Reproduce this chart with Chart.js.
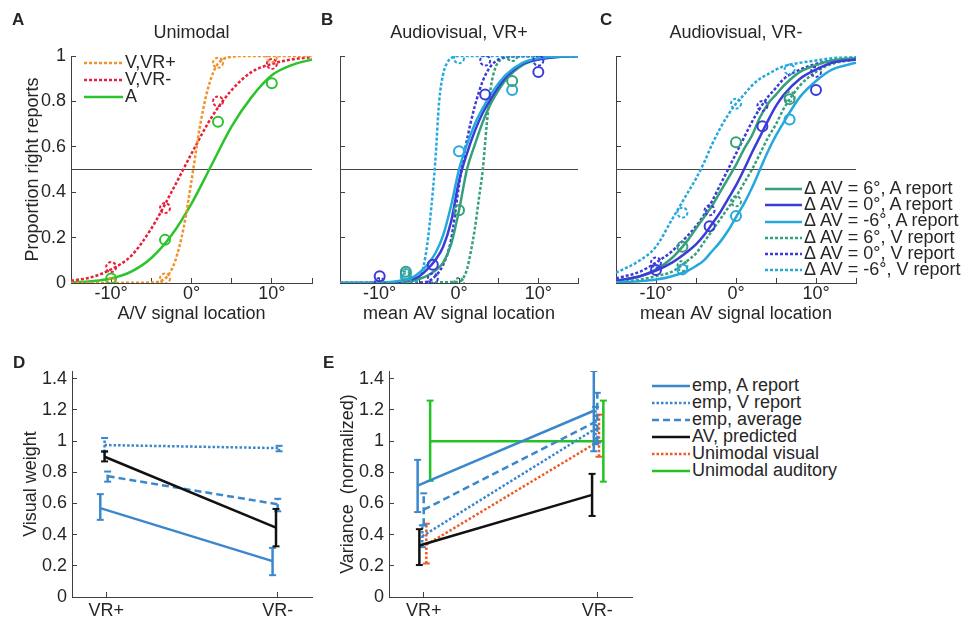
<!DOCTYPE html>
<html>
<head>
<meta charset="utf-8">
<script src="https://cdn.jsdelivr.net/npm/chart.js@4.4.0/dist/chart.umd.min.js"></script>
<style>
body { margin: 0; background: #fff; }
#fig { position: relative; width: 969px; height: 619px; overflow: hidden;
       font-family: 'Liberation Sans', Arial, sans-serif; color: #262626; }
#fig canvas { position: absolute; }
.letter { position: absolute; font-weight: bold; font-size: 17px; line-height: 17px; }
.leg { position: absolute; font-size: 18px; white-space: nowrap; }
.leg div { height: 17px; line-height: 17px; }
#legC div { height: 16.2px; line-height: 16.2px; }
.leg svg { vertical-align: middle; margin-right: 2px; }
</style>
</head>
<body>
<div id="fig">
  <canvas id="panelA" width="320" height="335" style="left:0;top:0"></canvas>
  <canvas id="panelB" width="280" height="335" style="left:320px;top:0"></canvas>
  <canvas id="panelC" width="270" height="335" style="left:600px;top:0"></canvas>
  <canvas id="panelD" width="320" height="284" style="left:0;top:335px"></canvas>
  <canvas id="panelE" width="320" height="284" style="left:320px;top:335px"></canvas>

  <div class="letter" style="left:12px;top:11px">A</div>
  <div class="letter" style="left:321px;top:11px">B</div>
  <div class="letter" style="left:600px;top:11px">C</div>
  <div class="letter" style="left:13px;top:354px">D</div>
  <div class="letter" style="left:323px;top:354px">E</div>

  <div class="leg" id="legA" style="left:84px;top:54px"></div>
  <div class="leg" id="legC" style="left:765px;top:180px"></div>
  <div class="leg" id="legE" style="left:652px;top:377px"></div>
</div>

<script>
// ---- data ----

// A : unimodal
const locA = [-10, -3.3, 3.3, 10];
const vPlusPts = [0.0, 0.02, 0.97, 0.995];
const vMinusPts = [0.07, 0.33, 0.80, 0.965];
const audPts = [0.02, 0.19, 0.71, 0.88];

const curveXA = [-15, -12.5, -10, -7.5, -5, -2.5, 0, 2.5, 5, 7.5, 10, 12.5, 15];
const audCurve = [0.003, 0.008, 0.02, 0.05, 0.11, 0.21, 0.35, 0.52, 0.69, 0.82, 0.915, 0.96, 0.985];
const vMinusCurve = [0.01, 0.025, 0.06, 0.12, 0.24, 0.40, 0.57, 0.73, 0.85, 0.93, 0.965, 0.985, 0.995];
const vPlusCurveX = [-15, -5, -4, -3, -2, -1, 0, 1, 2, 3, 4, 5, 6, 15];
const vPlusCurve = [0, 0.002, 0.007, 0.03, 0.10, 0.24, 0.45, 0.68, 0.85, 0.95, 0.987, 0.997, 1, 1];

// B and C : audiovisual (x = mean AV location)
const locAV0 = [-10, -3.3, 3.3, 10];     // delta AV = 0
const locAV6 = [-6.7, 0, 6.7];           // delta AV = +-6
const gridX = [-15, -12, -10, -8, -6, -5, -4, -3, -2, -1, 0, 1, 2, 3, 4, 5, 6, 8, 10, 12, 15];

// B : VR+
const bPts6A = [0.05, 0.32, 0.89];
const bPts0A = [0.03, 0.08, 0.83, 0.93];
const bPtsM6A = [0.04, 0.58, 0.85];
const bPts6V = [0.03, 0.0, 1.0];
const bPts0V = [0.0, 0.02, 0.98, 0.98];
const bPtsM6V = [0.02, 0.99, 1.0];

const bCurve6A = [0, 0, 0, 0.002, 0.008, 0.018, 0.032, 0.055, 0.09, 0.17, 0.32, 0.50, 0.61, 0.71, 0.79, 0.85, 0.90, 0.96, 0.985, 0.995, 1];
const bCurve0A = [0, 0, 0.001, 0.004, 0.015, 0.03, 0.06, 0.10, 0.16, 0.27, 0.45, 0.57, 0.67, 0.75, 0.81, 0.865, 0.91, 0.965, 0.985, 0.995, 1];
const bCurveM6A = [0, 0, 0.002, 0.007, 0.022, 0.045, 0.08, 0.13, 0.21, 0.34, 0.50, 0.61, 0.70, 0.77, 0.83, 0.88, 0.92, 0.97, 0.99, 0.997, 1];
const bCurve6VX = [-15, 0, 0.5, 1, 1.5, 2, 2.5, 3, 3.5, 4, 4.5, 5, 6, 7, 15];
const bCurve6V = [0, 0.005, 0.02, 0.06, 0.14, 0.24, 0.37, 0.50, 0.70, 0.86, 0.94, 0.975, 0.995, 1, 1];
const bCurve0VX = [-15, -5, -4, -3, -2, -1, 0, 1, 2, 3, 4, 5, 6, 15];
const bCurve0V = [0, 0.002, 0.006, 0.03, 0.08, 0.19, 0.43, 0.63, 0.78, 0.89, 0.955, 0.985, 0.997, 1];
const bCurveM6VX = [-15, -7, -6, -5, -4.5, -4, -3.5, -3, -2.5, -2, -1.5, -1, 0, 15];
const bCurveM6V = [0, 0, 0.003, 0.02, 0.07, 0.17, 0.33, 0.53, 0.80, 0.92, 0.97, 0.99, 1, 1];

// C : VR-
const cPts6A = [0.16, 0.62, 0.81];
const cPts0A = [0.057, 0.25, 0.69, 0.85];
const cPtsM6A = [0.06, 0.295, 0.72];
const cPts6V = [0.075, 0.36, 0.82];
const cPts0V = [0.09, 0.32, 0.78, 0.93];
const cPtsM6V = [0.31, 0.79, 0.94];

const cCurve6A = [0.01, 0.03, 0.06, 0.11, 0.19, 0.24, 0.29, 0.34, 0.40, 0.46, 0.52, 0.59, 0.65, 0.73, 0.79, 0.83, 0.87, 0.93, 0.96, 0.98, 0.99];
const cCurve0A = [0.01, 0.03, 0.055, 0.09, 0.14, 0.17, 0.21, 0.26, 0.31, 0.37, 0.43, 0.50, 0.575, 0.645, 0.715, 0.78, 0.83, 0.90, 0.94, 0.97, 0.985];
const cCurveM6A = [0.003, 0.008, 0.015, 0.03, 0.055, 0.075, 0.10, 0.14, 0.18, 0.23, 0.29, 0.35, 0.42, 0.50, 0.58, 0.65, 0.71, 0.82, 0.89, 0.94, 0.97];
const cCurve6V = [0.005, 0.015, 0.03, 0.05, 0.10, 0.13, 0.18, 0.23, 0.28, 0.33, 0.38, 0.44, 0.50, 0.57, 0.64, 0.70, 0.77, 0.87, 0.93, 0.965, 0.985];
const cCurve0V = [0.02, 0.05, 0.09, 0.14, 0.21, 0.25, 0.30, 0.36, 0.43, 0.50, 0.57, 0.64, 0.71, 0.77, 0.82, 0.86, 0.90, 0.94, 0.965, 0.98, 0.99];
const cCurveM6V = [0.045, 0.10, 0.16, 0.28, 0.40, 0.46, 0.53, 0.61, 0.68, 0.74, 0.79, 0.83, 0.87, 0.90, 0.92, 0.94, 0.955, 0.97, 0.98, 0.99, 0.995];

const psyXTicks = [-15, -10, -5, 0, 5, 10, 15];
const psyYTicks = [0, 0.2, 0.4, 0.6, 0.8, 1];

// D : visual weight   (values, lower and upper error)
const conds = ['VR+', 'VR-'];
const wArep = [0.57, 0.23],  wArepLo = [0.495, 0.14],  wArepHi = [0.66, 0.315];
const wVrep = [0.975, 0.955], wVrepLo = [0.93, 0.935], wVrepHi = [1.02, 0.97];
const wAvg = [0.775, 0.595],  wAvgLo = [0.74, 0.55],   wAvgHi = [0.805, 0.63];
const wPred = [0.90, 0.445],  wPredLo = [0.87, 0.325], wPredHi = [0.935, 0.565];

// E : variance (normalized)
const vArep = [0.715, 1.195], vArepLo = [0.545, 0.935], vArepHi = [0.88, 1.45];
const vVrep = [0.39, 1.08],   vVrepLo = [0.32, 0.98],   vVrepHi = [0.46, 1.22];
const vAvg = [0.56, 1.13],    vAvgLo = [0.46, 0.99],    vAvgHi = [0.665, 1.31];
const vPred = [0.33, 0.655],  vPredLo = [0.205, 0.52],  vPredHi = [0.435, 0.79];
const vUniV = [0.335, 1.0],   vUniVLo = [0.215, 0.90],  vUniVHi = [0.47, 1.17];
const vUniA = [1.0, 1.0],     vUniALo = [0.745, 0.74],  vUniAHi = [1.26, 1.26];

const barYTicks = [0, 0.2, 0.4, 0.6, 0.8, 1, 1.2, 1.4];

// ---- styles ----
const txtClr = '#262626';
const axisClr = '#404040';
const orange = '#f0922b', red = '#e8203c', green = '#2cc42c';
const teal = '#36a07a', blue = '#3b3bd9', cyan = '#25a9dd';
const steel = '#3b87cc', redOr = '#f05a28', uniGreen = '#22c322', black = '#111111';
const dotted = [3, 2], dashed = [7, 4];

Chart.defaults.font.family = "'Liberation Sans', Arial, sans-serif";
Chart.defaults.font.size = 18;
Chart.defaults.color = txtClr;

// points of "V report" data are drawn as dotted circles
Chart.register({
    id: 'pointDash',
    beforeDatasetDraw(chart, args) {
        chart.ctx.save();
        const ds = chart.data.datasets[args.index];
        if (ds.pointDash) chart.ctx.setLineDash(ds.pointDash);
    },
    afterDatasetDraw(chart) {
        chart.ctx.restore();
    }
});

function pairs(xs, ys) {
    return xs.map((x, i) => ({x: x, y: ys[i]}));
}

function curve(xs, ys, color, dash) {
    return {data: pairs(xs, ys), borderColor: color, borderWidth: 2.5, borderDash: dash || [],
            pointRadius: 0, cubicInterpolationMode: 'monotone', fill: false};
}

function circles(xs, ys, color, dash) {
    return {data: pairs(xs, ys), showLine: false, borderColor: color, pointRadius: 5,
            pointBorderWidth: 2, pointBorderColor: color, pointBackgroundColor: 'rgba(0,0,0,0)',
            pointDash: dash};
}

function halfLine() {
    return {data: [{x: -15, y: 0.5}, {x: 15, y: 0.5}], borderColor: '#444', borderWidth: 1.2, pointRadius: 0};
}

function psychOptions(title, xTitle, yTitle, yWidth, padRight) {
    return {
        responsive: false,
        animation: false,
        layout: {padding: {left: 0, top: 0, right: padRight, bottom: 0}},
        plugins: {
            legend: {display: false},
            tooltip: {enabled: false},
            title: {display: true, text: title, fullSize: false, color: txtClr,
                    font: {size: 18, weight: 'normal'}, padding: {top: 22, bottom: 12.4}}
        },
        scales: {
            x: {
                type: 'linear', min: -15, max: 15,
                afterBuildTicks: s => { s.ticks = psyXTicks.map(v => ({value: v})); },
                ticks: {autoSkip: false, maxRotation: 0, padding: 5, color: txtClr,
                        callback: v => (v % 10 === 0 ? v + '°' : '')},
                grid: {drawOnChartArea: false, tickLength: -5, color: axisClr},
                border: {color: axisClr},
                title: {display: true, text: xTitle, color: txtClr, padding: {top: 0, bottom: 10}},
                afterFit: s => { s.height = 52; }
            },
            y: {
                type: 'linear', min: 0, max: 1,
                afterBuildTicks: s => { s.ticks = psyYTicks.map(v => ({value: v})); },
                ticks: {autoSkip: false, padding: 10, color: txtClr,
                        callback: v => (yTitle ? String(v) : '')},
                grid: {drawOnChartArea: false, tickLength: -5, color: axisClr},
                border: {color: axisClr},
                title: {display: !!yTitle, text: yTitle, color: txtClr, padding: {top: 22, bottom: 0}},
                afterFit: s => { s.width = yWidth; }
            }
        }
    };
}

//---- A ----
new Chart(document.getElementById('panelA'), {
    type: 'line',
    data: {datasets: [
        circles(locA, vPlusPts, orange, dotted),
        circles(locA, vMinusPts, red, dotted),
        circles(locA, audPts, green),
        curve(vPlusCurveX, vPlusCurve, orange, dotted),
        curve(curveXA, vMinusCurve, red, dotted),
        curve(curveXA, audCurve, green),
        halfLine()
    ]},
    options: psychOptions('Unimodal', 'A/V signal location', 'Proportion right reports', 71, 8)
});

//---- B ----
new Chart(document.getElementById('panelB'), {
    type: 'line',
    data: {datasets: [
        circles(locAV6, bPts6A, teal),
        circles(locAV0, bPts0A, blue),
        circles(locAV6, bPtsM6A, cyan),
        circles(locAV6, bPts6V, teal, dotted),
        circles(locAV0, bPts0V, blue, dotted),
        circles(locAV6, bPtsM6V, cyan, dotted),
        curve(gridX, bCurveM6A, cyan),
        curve(gridX, bCurve0A, blue),
        curve(gridX, bCurve6A, teal),
        curve(bCurveM6VX, bCurveM6V, cyan, dotted),
        curve(bCurve0VX, bCurve0V, blue, dotted),
        curve(bCurve6VX, bCurve6V, teal, dotted),
        halfLine()
    ]},
    options: psychOptions('Audiovisual, VR+', 'mean AV signal location', '', 20, 22)
});

//---- C ----
new Chart(document.getElementById('panelC'), {
    type: 'line',
    data: {datasets: [
        circles(locAV6, cPts6A, teal),
        circles(locAV0, cPts0A, blue),
        circles(locAV6, cPtsM6A, cyan),
        circles(locAV6, cPts6V, teal, dotted),
        circles(locAV0, cPts0V, blue, dotted),
        circles(locAV6, cPtsM6V, cyan, dotted),
        curve(gridX, cCurveM6A, cyan),
        curve(gridX, cCurve0A, blue),
        curve(gridX, cCurve6A, teal),
        curve(gridX, cCurveM6V, cyan, dotted),
        curve(gridX, cCurve0V, blue, dotted),
        curve(gridX, cCurve6V, teal, dotted),
        halfLine()
    ]},
    options: psychOptions('Audiovisual, VR-', 'mean AV signal location', '', 16, 14)
});

//---- D and E : lines between conditions with error bars ----
function condSeries(vals, lo, hi, color, dash, off) {
    const xs = [1 + off[0], 2 + off[1]];
    const sets = [{data: pairs(xs, vals), borderColor: color, borderWidth: 2.5,
                   borderDash: dash || [], pointRadius: 0}];
    xs.forEach((x, i) => {
        sets.push({data: [{x: x, y: lo[i]}, {x: x, y: hi[i]}], borderColor: color, borderWidth: 2.5,
                   borderDash: dash || [], pointStyle: 'line', pointRadius: 3.5,
                   pointBorderWidth: 2, pointBorderColor: color});
    });
    return sets;
}

function condOptions(yTitle, yWidth, titlePad) {
    return {
        responsive: false,
        animation: false,
        layout: {padding: {left: 0, top: 36, right: 8, bottom: 0}},
        plugins: {legend: {display: false}, tooltip: {enabled: false}},
        scales: {
            x: {
                type: 'linear', min: 0.8, max: 2.2,
                afterBuildTicks: s => { s.ticks = conds.map((c, i) => ({value: i + 1})); },
                ticks: {autoSkip: false, maxRotation: 0, padding: 8, color: txtClr,
                        callback: v => conds[Math.round(v) - 1]},
                grid: {drawOnChartArea: false, tickLength: -5, color: axisClr},
                border: {color: axisClr},
                afterFit: s => { s.height = 22; }
            },
            y: {
                type: 'linear', min: 0, max: 1.45,
                afterBuildTicks: s => { s.ticks = barYTicks.map(v => ({value: v})); },
                ticks: {autoSkip: false, padding: 10, color: txtClr, callback: v => String(v)},
                grid: {drawOnChartArea: false, tickLength: -5, color: axisClr},
                border: {color: axisClr},
                title: {display: true, text: yTitle, color: txtClr, padding: {top: titlePad, bottom: 0}},
                afterFit: s => { s.width = yWidth; }
            }
        }
    };
}

new Chart(document.getElementById('panelD'), {
    type: 'line',
    data: {datasets: [].concat(
        condSeries(wPred, wPredLo, wPredHi, black, null, [-0.01, -0.01]),
        condSeries(wArep, wArepLo, wArepHi, steel, null, [-0.035, -0.03]),
        condSeries(wVrep, wVrepLo, wVrepHi, steel, [2.5, 2], [-0.01, 0.008]),
        condSeries(wAvg, wAvgLo, wAvgHi, steel, dashed, [0.008, 0])
    )},
    options: condOptions('Visual weight', 72, 20)
});

new Chart(document.getElementById('panelE'), {
    type: 'line',
    data: {datasets: [].concat(
        condSeries(vPred, vPredLo, vPredHi, black, null, [-0.025, -0.03]),
        condSeries(vArep, vArepLo, vArepHi, steel, null, [-0.035, -0.02]),
        condSeries(vVrep, vVrepLo, vVrepHi, steel, [2.5, 2], [-0.008, -0.01]),
        condSeries(vAvg, vAvgLo, vAvgHi, steel, dashed, [0, 0]),
        condSeries(vUniV, vUniVLo, vUniVHi, redOr, [2.5, 2], [0.015, 0.01]),
        condSeries(vUniA, vUniALo, vUniAHi, uniGreen, null, [0.037, 0.035])
    )},
    options: condOptions('Variance  (normalized)', 69, 17)
});

//---- legends ----
function legend(id, items, w) {
    const el = document.getElementById(id);
    items.forEach(it => {
        const row = document.createElement('div');
        const dash = it.dash ? ' stroke-dasharray="' + it.dash.join(' ') + '"' : '';
        row.innerHTML = '<svg width="' + w + '" height="8"><line x1="0" y1="4" x2="' + w + '" y2="4" stroke="' +
            it.color + '" stroke-width="2.5"' + dash + '/></svg>' + it.text;
        el.appendChild(row);
    });
}

legend('legA', [
    {text: 'V,VR+', color: orange, dash: dotted},
    {text: 'V,VR-', color: red, dash: dotted},
    {text: 'A', color: green}
], 39);

legend('legC', [
    {text: 'Δ AV = 6°, A report', color: teal},
    {text: 'Δ AV = 0°, A report', color: blue},
    {text: 'Δ AV = -6°, A report', color: cyan},
    {text: 'Δ AV = 6°, V report', color: teal, dash: dotted},
    {text: 'Δ AV = 0°, V report', color: blue, dash: dotted},
    {text: 'Δ AV = -6°, V report', color: cyan, dash: dotted}
], 37);

legend('legE', [
    {text: 'emp, A report', color: steel},
    {text: 'emp, V report', color: steel, dash: [2.5, 2]},
    {text: 'emp, average', color: steel, dash: dashed},
    {text: 'AV, predicted', color: black},
    {text: 'Unimodal visual', color: redOr, dash: [2.5, 2]},
    {text: 'Unimodal auditory', color: uniGreen}
], 38);
</script>
</body>
</html>
